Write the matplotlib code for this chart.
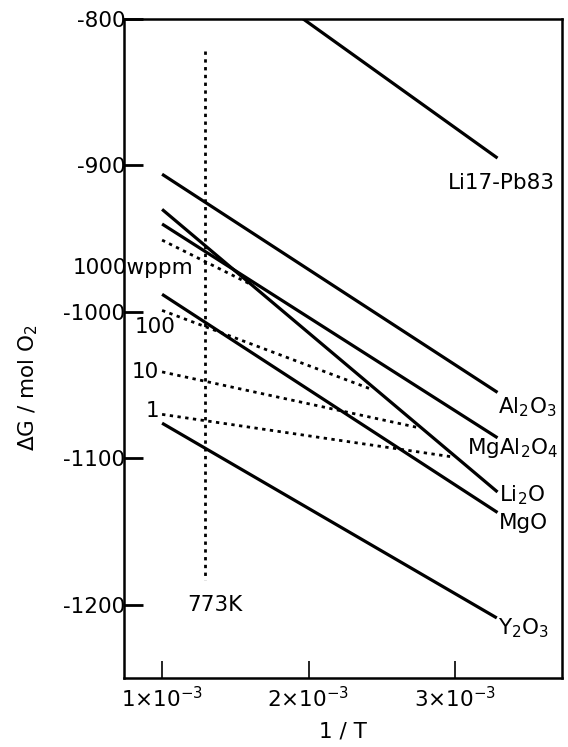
import numpy as np
import matplotlib
matplotlib.use("Agg")
import matplotlib.pyplot as plt

plt.rcParams['font.family'] = ['DejaVu Sans']
plt.rcParams['mathtext.default'] = 'regular'

# oxide formation lines: (1/T start, 1/T end), (dG start, dG end)
oxideNames = ['Li17-Pb83', 'Al$_2$O$_3$', 'MgAl$_2$O$_4$', 'Li$_2$O', 'MgO', 'Y$_2$O$_3$']
oxideX = [[1.0e-3, 3.29e-3], [1.0e-3, 3.29e-3], [1.0e-3, 3.29e-3],
          [1.0e-3, 3.29e-3], [1.0e-3, 3.29e-3], [1.0e-3, 3.285e-3]]
oxideG = [[-731, -895], [-906, -1055], [-940, -1086],
          [-930, -1123], [-988, -1137], [-1076, -1209]]

# oxygen concentration lines in Li17-Pb83
ppmNames = ['1000wppm', '100', '10', '1']
ppmX = [[1.0e-3, 1.621e-3], [1.0e-3, 2.433e-3], [1.0e-3, 2.747e-3], [1.0e-3, 2.980e-3]]
ppmG = [[-951, -982], [-999, -1053], [-1041, -1079], [-1070, -1099]]

T773 = 1 / 773
T773G = [-822, -1183]

fig = plt.figure(figsize=(5.68, 7.47), dpi=100)
ax = fig.add_axes([0.2183, 0.0924, 0.7711, 0.8822])

for xs, gs in zip(oxideX, oxideG):
    ax.plot(xs, gs, color='black', lw=2.3, solid_capstyle='butt')
for xs, gs in zip(ppmX, ppmG):
    ax.plot(xs, gs, color='black', lw=2.0, linestyle=(0, (1.2, 1.6)))
ax.plot([T773, T773], T773G, color='black', lw=2.0, linestyle=(0, (1.2, 1.6)))

fs = 15.5
# labels on the right end of the oxide lines
labelPos = [(2.95e-3, -912), (3.295e-3, -1065), (3.08e-3, -1093),
            (3.30e-3, -1125), (3.30e-3, -1144), (3.29e-3, -1216)]
for name, (lx, ly) in zip(oxideNames, labelPos):
    ax.text(lx, ly, name, fontsize=fs, ha='left', va='center')

ppmPos = [(0.392e-3, -970), (0.952e-3, -1010), (0.98e-3, -1041), (0.98e-3, -1068)]
for name, (lx, ly) in zip(ppmNames, ppmPos):
    if name == '1000wppm':
        ax.text(lx, ly, name, fontsize=fs, ha='left', va='center', clip_on=False)
    elif name == '100':
        ax.text(lx, ly, name, fontsize=fs, ha='center', va='center')
    else:
        ax.text(lx, ly, name, fontsize=fs, ha='right', va='center')

ax.text(1.36e-3, -1200, '773K', fontsize=fs, ha='center', va='center')

ax.set_xlim(0.74e-3, 3.73e-3)
ax.set_ylim(-1250, -800)
ax.set_xticks([1e-3, 2e-3, 3e-3])
ax.set_xticklabels(['1$\\times$10$^{-3}$', '2$\\times$10$^{-3}$', '3$\\times$10$^{-3}$'])
ax.set_yticks([-800, -900, -1000, -1100, -1200])
ax.set_yticklabels(['-800', '-900', '-1000', '-1100', '-1200'])
ax.tick_params(axis='y', direction='in', length=14, width=2, pad=-1, labelsize=fs)
ax.tick_params(axis='x', direction='in', length=12, width=1.2, pad=6, labelsize=fs)
for s in ax.spines.values():
    s.set_linewidth(1.8)

ax.set_xlabel('1 / T', fontsize=fs)
ax.xaxis.set_label_coords(0.5, -0.066)
ax.set_ylabel('$\\Delta$G / mol O$_2$', fontsize=fs)
ax.yaxis.set_label_coords(-0.192, 0.44)

fig.savefig('out.png', dpi=100)
